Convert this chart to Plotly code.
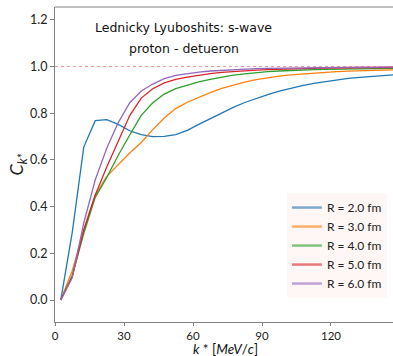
import plotly.graph_objects as go

k = [2.5, 7.5, 12.5, 17.5, 22.5, 27.5, 32.5, 37.5, 42.5, 47.5,
     52.5, 57.5, 62.5, 67.5, 72.5, 77.5, 82.5, 87.5, 92.5, 97.5,
     102.5, 107.5, 112.5, 117.5, 122.5, 127.5, 132.5, 137.5, 142.5, 147.5]

c_r2 = [0.0, 0.29, 0.655, 0.768, 0.773, 0.752, 0.725, 0.708, 0.700, 0.701,
        0.708, 0.727, 0.752, 0.777, 0.802, 0.825, 0.846, 0.864, 0.880, 0.895,
        0.908, 0.918, 0.928, 0.936, 0.943, 0.949, 0.954, 0.958, 0.962, 0.965]
c_r3 = [0.0, 0.125, 0.30, 0.45, 0.53, 0.58, 0.63, 0.675, 0.73, 0.78,
        0.82, 0.847, 0.868, 0.888, 0.906, 0.921, 0.933, 0.944, 0.952, 0.959,
        0.964, 0.968, 0.972, 0.975, 0.978, 0.980, 0.982, 0.984, 0.985, 0.986]
c_r4 = [0.0, 0.105, 0.285, 0.44, 0.525, 0.62, 0.707, 0.791, 0.845, 0.882,
        0.905, 0.920, 0.934, 0.945, 0.955, 0.963, 0.969, 0.975, 0.978, 0.981,
        0.984, 0.986, 0.987, 0.988, 0.989, 0.990, 0.990, 0.991, 0.991, 0.992]
c_r5 = [0.0, 0.10, 0.30, 0.45, 0.57, 0.68, 0.79, 0.865, 0.905, 0.930,
        0.945, 0.955, 0.963, 0.970, 0.975, 0.979, 0.982, 0.985, 0.987, 0.989,
        0.990, 0.991, 0.992, 0.993, 0.994, 0.994, 0.995, 0.995, 0.996, 0.996]
c_r6 = [0.0, 0.095, 0.33, 0.515, 0.65, 0.76, 0.845, 0.895, 0.925, 0.948,
        0.962, 0.970, 0.976, 0.981, 0.984, 0.987, 0.989, 0.991, 0.992, 0.993,
        0.994, 0.995, 0.995, 0.996, 0.996, 0.997, 0.997, 0.997, 0.998, 0.998]

series = [c_r2, c_r3, c_r4, c_r5, c_r6]
labels = ["R = 2.0 fm", "R = 3.0 fm", "R = 4.0 fm", "R = 5.0 fm", "R = 6.0 fm"]
colors = ["#1f77b4", "#ff7f0e", "#2ca02c", "#d62728", "#9467bd"]

x_ticks = [0, 30, 60, 90, 120]
y_ticks = [0.0, 0.2, 0.4, 0.6, 0.8, 1.0, 1.2]

FONT = "Lato"

fig = go.Figure()
for s, lab, col in zip(series, labels, colors):
    fig.add_trace(go.Scatter(x=k, y=s, mode="lines", name=lab,
                             line=dict(color=col, width=1.3),
                             showlegend=False, legendgroup=lab))
    fig.add_trace(go.Scatter(x=[None], y=[None], mode="lines", name=lab,
                             line=dict(color=col, width=2.5), opacity=0.6,
                             showlegend=True, legendgroup=lab))

fig.add_hline(y=1.0, line=dict(color="rgba(230,110,110,0.7)", width=1, dash="dot"))

fig.add_shape(type="line", xref="paper", yref="paper", x0=0, x1=1, y0=1, y1=1,
              line=dict(color="#808080", width=1.2))

fig.add_annotation(x=56, y=1.169, xref="x", yref="y", text="Lednicky Lyuboshits: s-wave",
                   showarrow=False, font=dict(family="DejaVu Sans", size=12.5, color="#111"))
fig.add_annotation(x=56, y=1.079, xref="x", yref="y", text="proton - detueron",
                   showarrow=False, font=dict(family="DejaVu Sans", size=12.5, color="#111"))

# x-axis title placed as annotation below the tick labels
fig.add_annotation(x=0.505, y=-0.086, xref="paper", yref="paper",
                   text="<i>k</i> * [<i>MeV</i>/<i>c</i>]", showarrow=False,
                   xanchor="center", yanchor="middle", borderpad=0,
                   font=dict(family=FONT, size=13.5, color="#111"))

fig.update_layout(
    width=393, height=356,
    margin=dict(l=55, r=0, t=7, b=34, autoexpand=False),
    paper_bgcolor="white", plot_bgcolor="white",
    font=dict(family=FONT, size=12, color="#222"),
    legend=dict(x=0.982, y=0.076, xanchor="right", yanchor="bottom",
                bgcolor="rgba(255,246,244,0.9)", borderwidth=0,
                font=dict(family=FONT, size=12, color="#222"),
                tracegroupgap=0, itemwidth=30),
    showlegend=True,
)
fig.update_xaxes(range=[0, 146.96], tickvals=x_ticks, ticktext=[str(v) for v in x_ticks],
                 showgrid=False, zeroline=False, showline=True, linecolor="#808080",
                 linewidth=1.2, ticks="outside", ticklen=3, tickcolor="#808080",
                 tickfont=dict(size=11.5), automargin=False)
fig.update_yaxes(range=[-0.094, 1.255], tickvals=y_ticks, ticktext=[f"{v:.1f}" for v in y_ticks],
                 showgrid=False, zeroline=False, showline=True, linecolor="#808080",
                 linewidth=1.2, ticks="outside", ticklen=4, tickcolor="#808080",
                 tickfont=dict(size=12.5), automargin=False,
                 title=dict(text="<i>C</i><sub><i>k*</i></sub>", font=dict(size=18), standoff=1))

fig.write_html("out.html")
